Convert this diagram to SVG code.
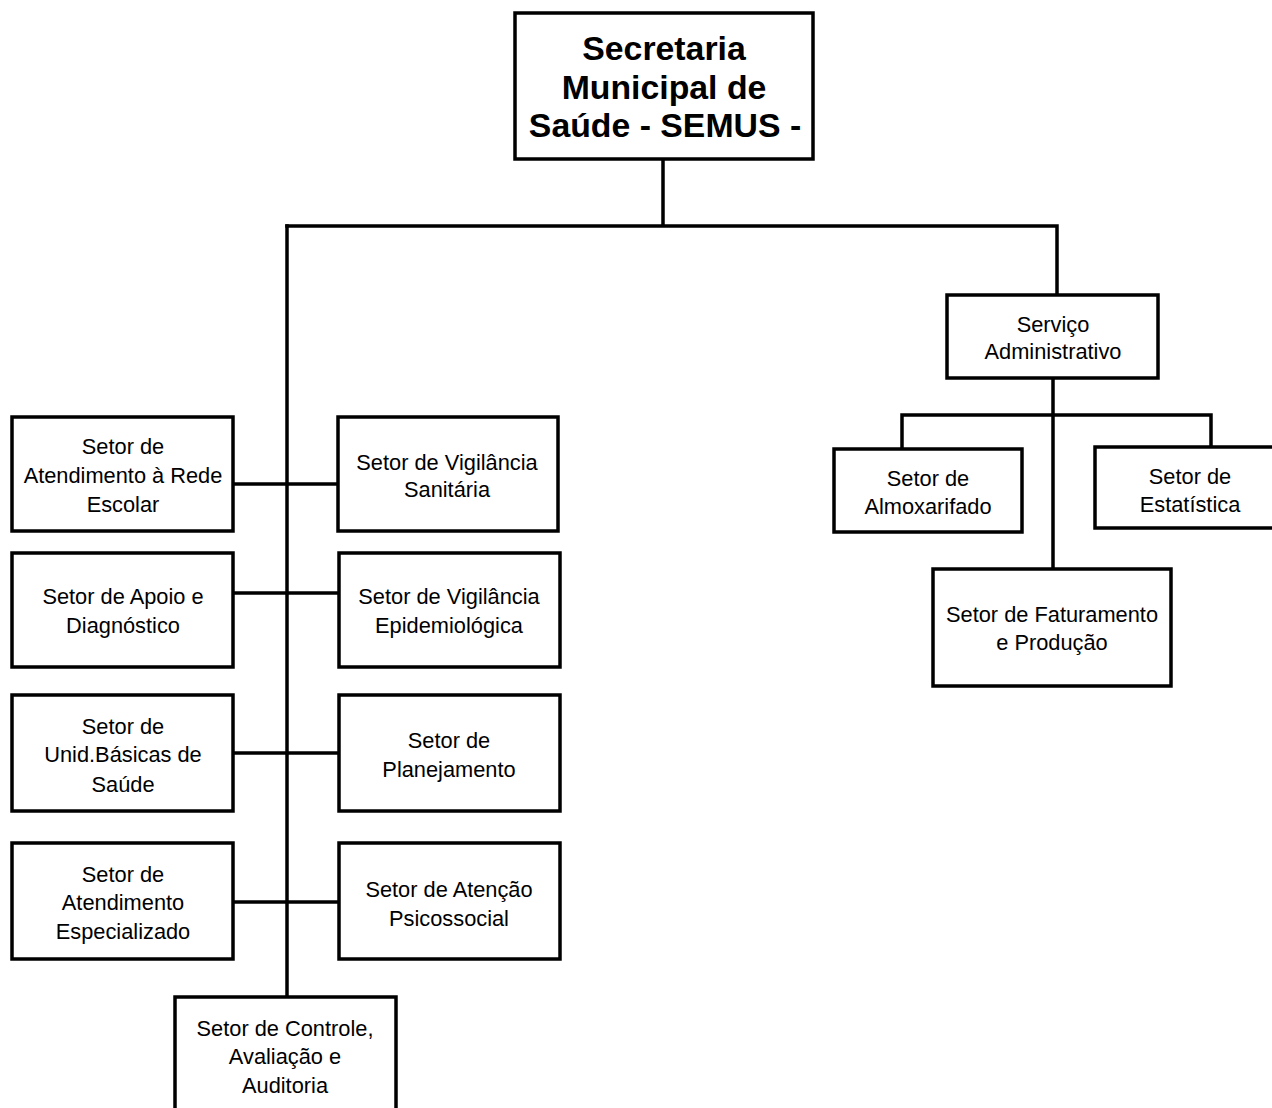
<svg xmlns="http://www.w3.org/2000/svg" width="1272" height="1108" viewBox="0 0 1272 1108">
  <style>
    .box { fill: #ffffff; stroke: #000000; stroke-width: 3.5; }
    .wire { fill: none; stroke: #000000; stroke-width: 3.5; stroke-linecap: square; }
    .lbl { font-family: "Liberation Sans", Arial, sans-serif; font-size: 21.8px; fill: #000000; text-anchor: middle; }
    .head { font-family: "Liberation Sans", Arial, sans-serif; font-size: 33.8px; font-weight: bold; fill: #000000; text-anchor: middle; }
  </style>
  <rect width="1272" height="1108" fill="#ffffff"/>

  <!-- connectors -->
  <g id="connectors">
    <path class="wire" d="M663 159 V226 M287 226 H1057 V295"/>
    <path class="wire" d="M287 226 V997"/>
    <path class="wire" d="M233 484 H338"/>
    <path class="wire" d="M233 593 H339"/>
    <path class="wire" d="M233 753 H339"/>
    <path class="wire" d="M233 902 H339"/>
    <path class="wire" d="M1053 377 V569 M902 449 V415 H1211 V447"/>
  </g>

  <g id="semus">
    <rect class="box" x="515" y="13" width="298" height="146"/>
    <text class="head" x="664" y="60">Secretaria</text>
    <text class="head" x="664" y="98.5">Municipal de</text>
    <text class="head" x="665" y="137">Saúde - SEMUS -</text>
  </g>

  <g id="servico-administrativo">
    <rect class="box" x="947" y="295" width="211" height="83"/>
    <text class="lbl" x="1053" y="332">Serviço</text>
    <text class="lbl" x="1053" y="359">Administrativo</text>
  </g>

  <g id="almoxarifado">
    <rect class="box" x="834" y="449" width="188" height="83"/>
    <text class="lbl" x="928" y="486">Setor de</text>
    <text class="lbl" x="928" y="514">Almoxarifado</text>
  </g>

  <g id="estatistica">
    <rect class="box" x="1095" y="447" width="190" height="81"/>
    <text class="lbl" x="1190" y="484">Setor de</text>
    <text class="lbl" x="1190" y="512">Estatística</text>
  </g>

  <g id="faturamento">
    <rect class="box" x="933" y="569" width="238" height="117"/>
    <text class="lbl" x="1052" y="622">Setor de Faturamento</text>
    <text class="lbl" x="1052" y="650">e Produção</text>
  </g>

  <g id="rede-escolar">
    <rect class="box" x="12" y="417" width="221" height="114"/>
    <text class="lbl" x="123" y="454">Setor de</text>
    <text class="lbl" x="123" y="483">Atendimento à Rede</text>
    <text class="lbl" x="123" y="512">Escolar</text>
  </g>

  <g id="vigilancia-sanitaria">
    <rect class="box" x="338" y="417" width="220" height="114"/>
    <text class="lbl" x="447" y="470">Setor de Vigilância</text>
    <text class="lbl" x="447" y="497">Sanitária</text>
  </g>

  <g id="apoio-diagnostico">
    <rect class="box" x="12" y="553" width="221" height="114"/>
    <text class="lbl" x="123" y="604">Setor de Apoio e</text>
    <text class="lbl" x="123" y="633">Diagnóstico</text>
  </g>

  <g id="vigilancia-epidemiologica">
    <rect class="box" x="339" y="553" width="221" height="114"/>
    <text class="lbl" x="449" y="604">Setor de Vigilância</text>
    <text class="lbl" x="449" y="633">Epidemiológica</text>
  </g>

  <g id="unidades-basicas">
    <rect class="box" x="12" y="695" width="221" height="116"/>
    <text class="lbl" x="123" y="734">Setor de</text>
    <text class="lbl" x="123" y="762">Unid.Básicas de</text>
    <text class="lbl" x="123" y="792">Saúde</text>
  </g>

  <g id="planejamento">
    <rect class="box" x="339" y="695" width="221" height="116"/>
    <text class="lbl" x="449" y="748">Setor de</text>
    <text class="lbl" x="449" y="777">Planejamento</text>
  </g>

  <g id="atendimento-especializado">
    <rect class="box" x="12" y="843" width="221" height="116"/>
    <text class="lbl" x="123" y="882">Setor de</text>
    <text class="lbl" x="123" y="910">Atendimento</text>
    <text class="lbl" x="123" y="939">Especializado</text>
  </g>

  <g id="atencao-psicossocial">
    <rect class="box" x="339" y="843" width="221" height="116"/>
    <text class="lbl" x="449" y="897">Setor de Atenção</text>
    <text class="lbl" x="449" y="926">Psicossocial</text>
  </g>

  <g id="controle-avaliacao">
    <rect class="box" x="175" y="997" width="221" height="125"/>
    <text class="lbl" x="285" y="1036">Setor de Controle,</text>
    <text class="lbl" x="285" y="1064">Avaliação e</text>
    <text class="lbl" x="285" y="1093">Auditoria</text>
  </g>
</svg>
